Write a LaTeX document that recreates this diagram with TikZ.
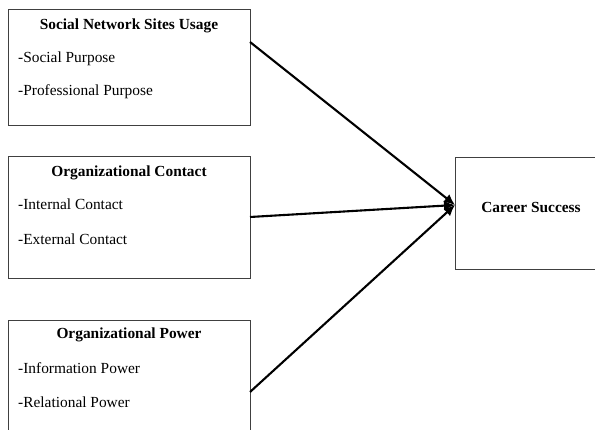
\documentclass[tikz,border=0pt]{standalone}
\usepackage{fontspec}
\setmainfont{Liberation Serif}
\usetikzlibrary{arrows.meta}
\begin{document}
\begin{tikzpicture}[x=1pt,y=-1pt,
  box/.style={draw=black!75,line width=0.9pt,rectangle,inner sep=0pt,anchor=north west},
  title/.style={font=\fontsize{15.4}{18}\selectfont\bfseries,anchor=base},
  item/.style={font=\fontsize{15.4}{18}\selectfont,anchor=base west,inner sep=0pt},
  conn/.style={line width=2.1pt,-{Latex[length=11pt,width=10pt]}}]
\useasboundingbox (0,0) rectangle (595,430);
\clip (0,0) rectangle (595,430);
\node[box,minimum width=242pt,minimum height=116pt] (b1) at (8,9) {};
\node[box,minimum width=242pt,minimum height=122pt] (b2) at (8,156) {};
\node[box,minimum width=242pt,minimum height=130pt] (b3) at (8,320) {};
\node[box,minimum width=150pt,minimum height=112pt] (cs) at (455,157) {};
\node[title] (t1) at (129,30) {Social Network Sites Usage};
\node[item] (i11) at (18,63) {-Social Purpose};
\node[item] (i12) at (18,96) {-Professional Purpose};
\node[title] (t2) at (129,177) {Organizational Contact};
\node[item] (i21) at (18,210) {-Internal Contact};
\node[item] (i22) at (18,245) {-External Contact};
\node[title] (t3) at (129,339) {Organizational Power};
\node[item] (i31) at (18,374) {-Information Power};
\node[item] (i32) at (18,408) {-Relational Power};
\node[title] (t4) at (531,213) {Career Success};
\coordinate (s1) at (250,42);
\coordinate (s2) at (250,217);
\coordinate (s3) at (250,392);
\coordinate (tgt) at (455,205);
\draw[conn] (s1) -- (tgt);
\draw[conn] (s2) -- (tgt);
\draw[conn] (s3) -- (tgt);
\end{tikzpicture}
\end{document}
